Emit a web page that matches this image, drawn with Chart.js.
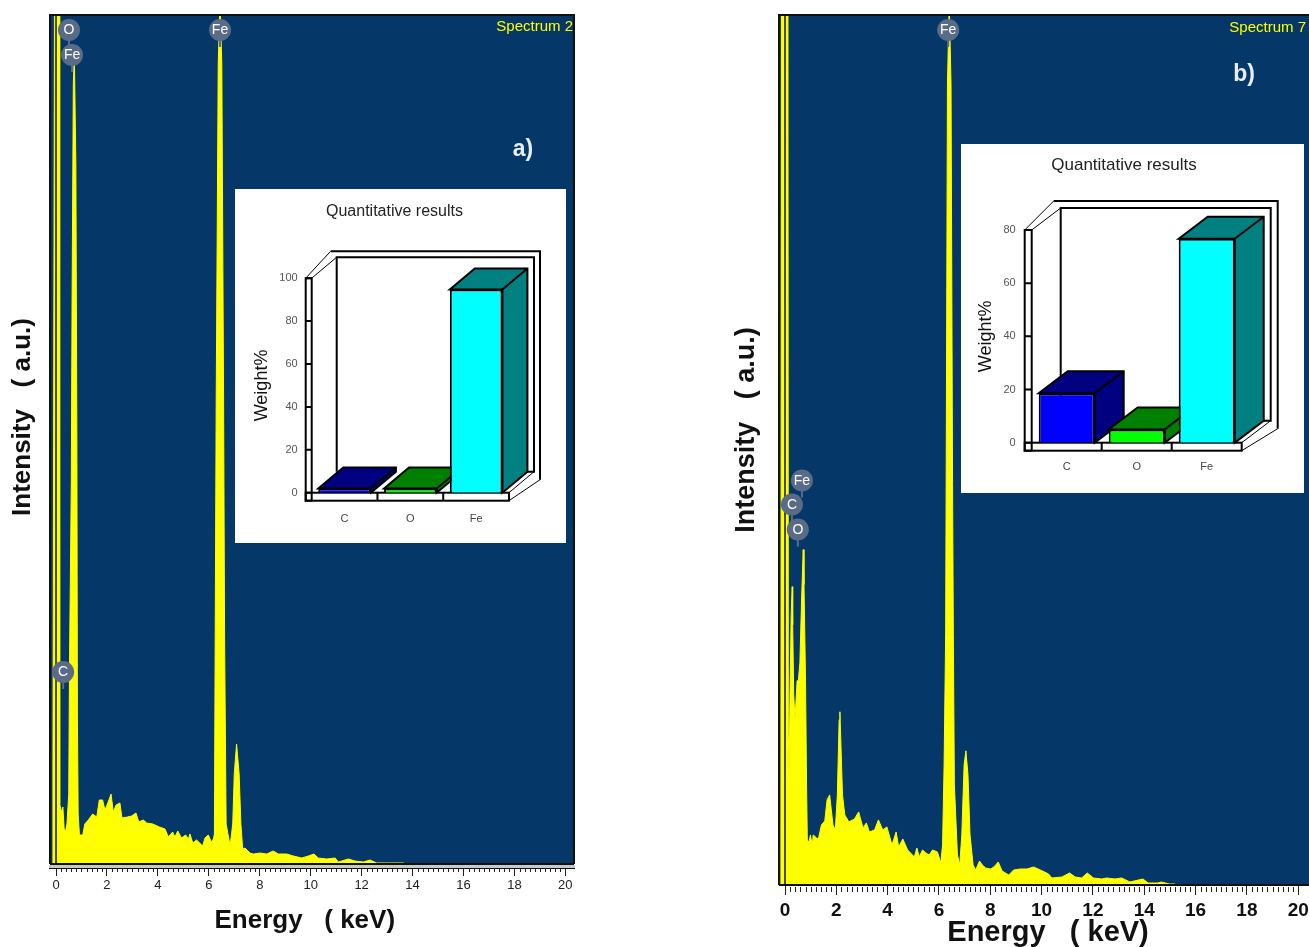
<!DOCTYPE html>
<html>
<head>
<meta charset="utf-8">
<title>EDS spectra</title>
<script src="https://cdn.jsdelivr.net/npm/chart.js@4/dist/chart.umd.min.js"></script>
<style>
    html, body { margin: 0; padding: 0; background: #fff; }
    #page { position: relative; width: 1309px; height: 947px; overflow: hidden; }
    canvas { position: absolute; display: block; }
    #specA { left: 0; top: 0; }
    #specB { left: 690px; top: 0; }
    #barsA { left: 235px; top: 189px; background: #fff; }
    #barsB { left: 961px; top: 144px; background: #fff; }
</style>
</head>
<body>
<div id="page">
    <!-- specB runs past the page edge: the "20" label needs room, the plot itself stops at 1309 -->
    <canvas id="specA" width="640" height="947"></canvas>
    <canvas id="specB" width="631" height="947"></canvas>
    <canvas id="barsA" width="331" height="354"></canvas>
    <canvas id="barsB" width="343" height="349"></canvas>
</div>
<script>
// spectrum a) - energy in keV, counts
const energyA = [-0.14, -0.12, -0.06, 0.125, 0.145, 0.22, 0.27, 0.32, 0.37, 0.43, 0.50, 0.53, 0.60, 0.63, 0.68, 0.72, 0.78, 0.82, 0.84, 0.87, 0.92,
    1.05, 1.13, 1.27, 1.44, 1.60, 1.70, 1.83, 1.92, 2.05, 2.16, 2.25, 2.36, 2.51, 2.59, 2.80, 2.97, 3.14, 3.25, 3.43, 3.56, 3.80,
    4.06, 4.28, 4.41, 4.58, 4.67, 4.78, 4.93, 5.09, 5.20, 5.26, 5.37, 5.52, 5.76, 5.85, 5.98, 6.10, 6.18,
    6.22, 6.25, 6.29, 6.37, 6.44, 6.51, 6.58, 6.62, 6.68, 6.83, 6.87, 6.94, 7.00, 7.09, 7.19, 7.26, 7.33, 7.42, 7.62, 7.75, 8.01, 8.27, 8.53,
    8.73, 9.06, 9.32, 9.65, 9.91, 10.13, 10.30, 10.63, 10.96, 11.09, 11.48, 11.74, 12.07, 12.33, 12.59, 12.98, 13.64, 13.70];
const countsA = [0, 100, 860, 860, 60, 52, 57, 35, 32, 40, 70, 200, 380, 560, 780, 809, 700, 420, 150, 50, 29,
    29, 40, 44, 50, 47, 64, 64, 54, 62, 70, 52, 59, 61, 46, 47, 48, 51, 42, 44, 41, 40,
    37, 35, 27, 32, 27, 33, 26, 29, 25, 30, 21, 24, 18, 26, 29, 22, 25,
    30, 224, 464, 800, 860, 800, 464, 224, 40, 19, 25, 40, 90, 120, 90, 40, 15, 16, 11, 10, 11, 10, 13,
    10, 10, 8, 6, 8, 10, 6, 5, 6, 2, 5, 3, 2, 4, 1, 1, 1, 0];
const peakLabelsA = ['O', 'Fe', 'C', 'Fe'];
const peakEnergyA = [0.51, 0.63, 0.28, 6.44];
const peakCountsA = [834, 809, 192, 834];

// spectrum b)
const energyB = [-0.16, -0.14, 0.115, 0.13, 0.16, 0.20, 0.24, 0.28, 0.30, 0.34, 0.39, 0.47, 0.52, 0.54, 0.58, 0.65, 0.71, 0.74, 0.80, 0.84,
    0.87, 0.94, 0.99, 1.06, 1.10, 1.23, 1.30, 1.42, 1.55, 1.64, 1.74, 1.87, 1.96, 2.04, 2.11, 2.14, 2.24, 2.33, 2.49, 2.71, 2.87,
    3.04, 3.17, 3.29, 3.49, 3.64, 3.81, 3.97, 4.17, 4.33, 4.43, 4.59, 4.78, 5.04, 5.14, 5.23, 5.36, 5.49, 5.62, 5.75, 5.94, 6.07,
    6.14, 6.20, 6.26, 6.28, 6.33, 6.40, 6.47, 6.53, 6.56, 6.60, 6.72, 6.81, 6.89, 6.98, 7.05, 7.13, 7.21, 7.33, 7.43, 7.58, 7.69, 7.82,
    8.01, 8.14, 8.31, 8.46, 8.72, 8.91, 9.17, 9.43, 9.69, 9.95, 10.27, 10.40, 10.79, 11.09, 11.31, 11.56, 11.78, 12.02, 12.34,
    12.53, 12.86, 13.12, 13.44, 13.95, 14.15, 14.53, 14.66, 14.98, 15.16, 15.30];
const countsB = [0, 880, 880, 150, 110, 200, 270, 298, 260, 190, 165, 204, 204, 204, 222, 288, 335, 300, 204, 100,
    45, 43, 50, 40, 50, 47, 46, 60, 64, 85, 90, 60, 55, 90, 165, 173, 90, 70, 63, 66, 73,
    57, 62, 53, 55, 65, 55, 58, 40, 53, 38, 46, 35, 28, 37, 28, 35, 32, 30, 35, 33, 22,
    40, 120, 250, 400, 800, 880, 800, 400, 250, 100, 30, 20, 50, 120, 134, 110, 50, 20, 15, 24, 20, 17,
    16, 18, 23, 14, 10, 15, 16, 16, 18, 15, 11, 7, 8, 12, 8, 7, 12, 7, 6,
    7, 6, 7, 3, 6, 2, 2, 3, 1, 1, 0];
const peakLabelsB = ['Fe', 'C', 'O', 'Fe'];
const peakEnergyB = [0.66, 0.27, 0.50, 6.36];
const peakCountsB = [404, 380, 355, 854];

// inset bars
const elements = ['C', 'O', 'Fe'];
const weightA = [2, 2, 94.7];
const weightB = [18.6, 5, 76.7];
const frontColors = ['#0000ff', '#00ff00', '#00ffff'];
const depthColors = ['#000080', '#008000', '#008080'];

const FONT = '"Liberation Sans", Arial, sans-serif';
const NAVY = '#053868';
const MARKER = '#5a6b87';

// panel background, frame, minor ticks and loose text of a spectrum
const spectrumFrame = {
    id: 'spectrumFrame',
    beforeDraw(chart) {
        const { ctx, chartArea: a } = chart;
        ctx.fillStyle = NAVY;
        ctx.fillRect(a.left, a.top, a.right - a.left, a.bottom - a.top);
    },
    afterDraw(chart, args, o) {
        const { ctx, chartArea: a, scales: { x } } = chart;
        ctx.save();
        ctx.strokeStyle = '#111';
        ctx.lineWidth = 2;
        ctx.beginPath();
        ctx.moveTo(a.left, a.bottom);
        ctx.lineTo(a.left, a.top);
        ctx.lineTo(a.right, a.top);
        if (o.rightEdge) ctx.lineTo(a.right, a.bottom);
        ctx.moveTo(a.left, a.bottom);
        ctx.lineTo(a.right, a.bottom);
        ctx.stroke();
        if (o.band) {
            ctx.fillStyle = '#c8c8c8';
            ctx.fillRect(a.left - 1, a.bottom + 1, a.right - a.left + 2, o.band);
            ctx.fillStyle = '#111';
            ctx.fillRect(a.left - 1, a.bottom + 1 + o.band, a.right - a.left + 2, 1);
        }
        // minor ticks every 0.2 keV
        ctx.lineWidth = 1;
        ctx.strokeStyle = '#222';
        ctx.beginPath();
        for (let i = 0; i <= 100; i++) {
            if (i % 10 === 0) continue;
            const px = Math.round(x.getPixelForValue(i * 0.2)) + 0.5;
            ctx.moveTo(px, a.bottom + o.minorFrom);
            ctx.lineTo(px, a.bottom + o.minorTo);
        }
        ctx.stroke();
        // peak markers: stem and text
        const meta = chart.getDatasetMeta(0);
        ctx.textAlign = 'center';
        ctx.textBaseline = 'middle';
        ctx.font = '14px ' + FONT;
        meta.data.forEach((pt, i) => {
            ctx.fillStyle = MARKER;
            ctx.fillRect(pt.x - 1, pt.y + 10, 2, 7);
            ctx.fillStyle = '#fff';
            ctx.fillText(o.peakLabels[i], pt.x, pt.y + 0.5);
        });
        // loose labels
        for (const t of o.texts) {
            ctx.save();
            ctx.translate(t.x, t.y);
            if (t.rot) ctx.rotate(t.rot);
            ctx.font = t.font;
            ctx.fillStyle = t.color;
            ctx.textAlign = t.align || 'center';
            ctx.fillText(t.text, 0, 0);
            ctx.restore();
        }
        ctx.restore();
    }
};

function makeSpectrum(id, cfg) {
    return new Chart(document.getElementById(id), {
        type: 'line',
        data: {
            datasets: [
                {
                    type: 'scatter',
                    order: 0,
                    data: cfg.peakEnergy.map((e, i) => ({ x: e, y: cfg.peakCounts[i] })),
                    pointRadius: 11,
                    pointBackgroundColor: MARKER,
                    pointBorderWidth: 0,
                    clip: false
                },
                {
                    // zero-energy line
                    order: 1,
                    data: [{ x: 0, y: 0 }, { x: 0, y: cfg.yMax }],
                    borderColor: '#111',
                    borderWidth: 1.5,
                    pointRadius: 0
                },
                {
                    order: 2,
                    data: cfg.energy.map((e, i) => ({ x: e, y: cfg.counts[i] })),
                    borderColor: '#ffff00',
                    backgroundColor: '#ffff00',
                    borderWidth: 1,
                    pointRadius: 0,
                    tension: 0,
                    fill: 'origin'
                }
            ]
        },
        options: {
            responsive: false,
            animation: false,
            layout: { padding: cfg.padding },
            plugins: {
                legend: { display: false },
                tooltip: { enabled: false },
                spectrumFrame: cfg.frame
            },
            scales: {
                y: { display: false, min: 0, max: cfg.yMax },
                x: {
                    type: 'linear',
                    min: cfg.xMin,
                    max: cfg.xMax,
                    afterFit: s => { s.height = cfg.axisHeight; },
                    border: { display: false },
                    grid: { drawOnChartArea: false, tickLength: cfg.tickLength, tickColor: '#222', offset: false },
                    ticks: {
                        stepSize: 2,
                        includeBounds: false,
                        autoSkip: false,
                        maxRotation: 0,
                        padding: cfg.tickPadding,
                        color: cfg.tickColor,
                        font: cfg.tickFont
                    },
                    title: {
                        display: true,
                        text: cfg.xTitle,
                        color: '#111',
                        font: cfg.titleFont,
                        padding: cfg.titlePadding
                    }
                }
            }
        },
        plugins: [spectrumFrame]
    });
}

makeSpectrum('specA', {
    energy: energyA, counts: countsA, peakEnergy: peakEnergyA, peakCounts: peakCountsA,
    yMax: 849, xMin: -0.236, xMax: 20.34, axisHeight: 83, tickLength: 12, tickPadding: 2,
    padding: { left: 50, right: 66, top: 15, bottom: 0 },
    tickColor: '#222', tickFont: { family: FONT, size: 13 },
    xTitle: 'Energy   ( keV)\u00a0\u00a0',
    titleFont: { family: FONT, size: 26, weight: 'bold' },
    titlePadding: { top: 0, bottom: 11 },
    frame: {
        peakLabels: peakLabelsA, band: 3, minorFrom: 4, minorTo: 8, rightEdge: true,
        texts: [
            { text: 'Spectrum 2', x: 573, y: 27, align: 'right', font: '15px ' + FONT, color: '#ffff00' },
            { text: 'a)', x: 523, y: 150, font: 'bold 23px ' + FONT, color: '#e8eef4' },
            { text: 'Intensity   ( a.u.)', x: 23, y: 417, rot: -Math.PI / 2, font: 'bold 26px ' + FONT, color: '#111' }
        ]
    }
});

makeSpectrum('specB', {
    energy: energyB, counts: countsB, peakEnergy: peakEnergyB, peakCounts: peakCountsB,
    yMax: 869, xMin: -0.234, xMax: 20.42, axisHeight: 62, tickLength: 10, tickPadding: 4,
    padding: { left: 89, right: 12, top: 15, bottom: 0 },
    tickColor: '#111', tickFont: { family: FONT, size: 19, weight: 'bold' },
    xTitle: '\u00a0Energy   ( keV)',
    titleFont: { family: FONT, size: 29, weight: 'bold', lineHeight: 1 },
    titlePadding: { top: 0, bottom: 0 },
    frame: {
        peakLabels: peakLabelsB, band: 0, minorFrom: 2, minorTo: 7, rightEdge: false,
        texts: [
            { text: 'Spectrum 7', x: 616, y: 28, align: 'right', font: '15px ' + FONT, color: '#ffff00' },
            { text: 'b)', x: 554, y: 75, font: 'bold 23px ' + FONT, color: '#e8eef4' },
            { text: 'Intensity   ( a.u.)', x: 57, y: 430, rot: -Math.PI / 2, font: 'bold 27px ' + FONT, color: '#111' }
        ]
    }
});

// fake 3D box for the inset: walls behind the bars, top and side faces of the bars
const box3d = {
    id: 'box3d',
    beforeDatasetsDraw(chart, args, o) {
        const { ctx, chartArea: a, scales: { x, y } } = chart;
        const dx = o.dx, dy = o.dy;
        const railL = a.left - o.rail, floorB = a.bottom + o.floor;
        ctx.save();
        ctx.strokeStyle = '#000';
        ctx.lineWidth = 2;
        ctx.fillStyle = '#fff';
        // back wall, outer and inner edges
        ctx.beginPath();
        ctx.moveTo(a.left + dx, a.bottom + dy);
        ctx.lineTo(a.left + dx, a.top + dy);
        ctx.lineTo(a.right + dx, a.top + dy);
        ctx.lineTo(a.right + dx, a.bottom + dy);
        ctx.lineTo(a.right + dx - 14, a.bottom + dy);
        ctx.moveTo(railL + dx, a.top + dy - o.rail);
        ctx.lineTo(a.right + dx + o.rail, a.top + dy - o.rail);
        ctx.lineTo(a.right + dx + o.rail, floorB + dy);
        ctx.stroke();
        // diagonals from rail top and floor corner to the wall
        ctx.lineWidth = 1;
        ctx.beginPath();
        ctx.moveTo(railL, a.top);
        ctx.lineTo(railL + dx, a.top + dy - o.rail);
        ctx.moveTo(a.left, a.top);
        ctx.lineTo(a.left + dx, a.top + dy);
        ctx.moveTo(a.right, floorB);
        ctx.lineTo(a.right + dx + o.rail, floorB + dy);
        ctx.moveTo(a.right, a.bottom);
        ctx.lineTo(a.right + dx, a.bottom + dy);
        ctx.stroke();
        // left rail and floor slab
        ctx.lineWidth = 2;
        ctx.strokeRect(railL, a.top, o.rail, floorB - a.top);
        ctx.strokeRect(railL, a.bottom, a.right - railL, o.floor);
        ctx.beginPath();
        y.ticks.forEach(t => {
            const py = y.getPixelForValue(t.value);
            ctx.moveTo(railL, py);
            ctx.lineTo(a.left, py);
        });
        for (let i = 1; i < 3; i++) {
            const px = x.getPixelForValue(i - 0.5);
            ctx.moveTo(px, a.bottom);
            ctx.lineTo(px, floorB);
        }
        ctx.stroke();
        // depth faces
        chart.getDatasetMeta(0).data.forEach((bar, i) => {
            const half = bar.width / 2, l = bar.x - half, r = bar.x + half, t = bar.y, b = y.getPixelForValue(0);
            ctx.fillStyle = depthColors[i];
            ctx.beginPath();
            ctx.moveTo(l, t);
            ctx.lineTo(l + dx, t + dy);
            ctx.lineTo(r + dx, t + dy);
            ctx.lineTo(r + dx, b + dy);
            ctx.lineTo(r, b);
            ctx.lineTo(r, t);
            ctx.closePath();
            ctx.fill();
            ctx.stroke();
            ctx.beginPath();
            ctx.moveTo(r, t);
            ctx.lineTo(r + dx, t + dy);
            ctx.stroke();
        });
        ctx.restore();
    }
};

function makeBars(id, cfg) {
    return new Chart(document.getElementById(id), {
        type: 'bar',
        data: {
            labels: elements,
            datasets: [{
                data: cfg.values,
                backgroundColor: frontColors,
                borderColor: '#000',
                borderWidth: 2,
                barPercentage: 0.8,
                categoryPercentage: 1
            }]
        },
        options: {
            responsive: false,
            animation: false,
            layout: { padding: { left: 0, right: cfg.padRight, top: 0, bottom: 0 } },
            plugins: {
                legend: { display: false },
                tooltip: { enabled: false },
                title: {
                    display: true,
                    text: 'Quantitative results',
                    color: '#222',
                    font: { family: FONT, size: cfg.titleSize, weight: 'normal', lineHeight: 1.2 },
                    padding: cfg.titlePadding
                },
                box3d: { dx: cfg.dx, dy: cfg.dy, rail: cfg.rail, floor: 8 }
            },
            scales: {
                x: {
                    afterFit: s => { s.height = cfg.bottom; },
                    border: { display: false },
                    grid: { display: false },
                    ticks: { color: '#444', padding: cfg.xPad, font: { family: FONT, size: 11 } }
                },
                y: {
                    min: 0,
                    max: cfg.max,
                    afterFit: s => { s.width = cfg.left; },
                    border: { display: false },
                    grid: { display: false },
                    ticks: { stepSize: 20, color: '#555', padding: cfg.yPad, font: { family: FONT, size: 11 } },
                    title: {
                        display: true,
                        text: 'Weight%',
                        color: '#111',
                        font: { family: FONT, size: 18 },
                        padding: { top: cfg.yTitleTop, bottom: 0 }
                    }
                },
                // empty axis, only keeps the room right of the floor for the 3D walls
                yRoom: {
                    type: 'linear',
                    position: 'right',
                    afterFit: s => { s.width = cfg.right; },
                    border: { display: false },
                    grid: { display: false },
                    ticks: { display: false }
                }
            }
        },
        plugins: [box3d]
    });
}

makeBars('barsA', {
    values: weightA, max: 100, left: 76.7, padRight: 12, right: 45, bottom: 50.3, dx: 25, dy: -21, rail: 6,
    titleSize: 16, titlePadding: { top: 13, bottom: 57 }, xPad: 12, yPad: 6, yTitleTop: 16
});
makeBars('barsB', {
    values: weightB, max: 80, left: 70.7, padRight: 17, right: 45.3, bottom: 50.3, dx: 29, dy: -22, rail: 7,
    titleSize: 17, titlePadding: { top: 11, bottom: 54.6 }, xPad: 10, yPad: 8, yTitleTop: 14
});
</script>
</body>
</html>
